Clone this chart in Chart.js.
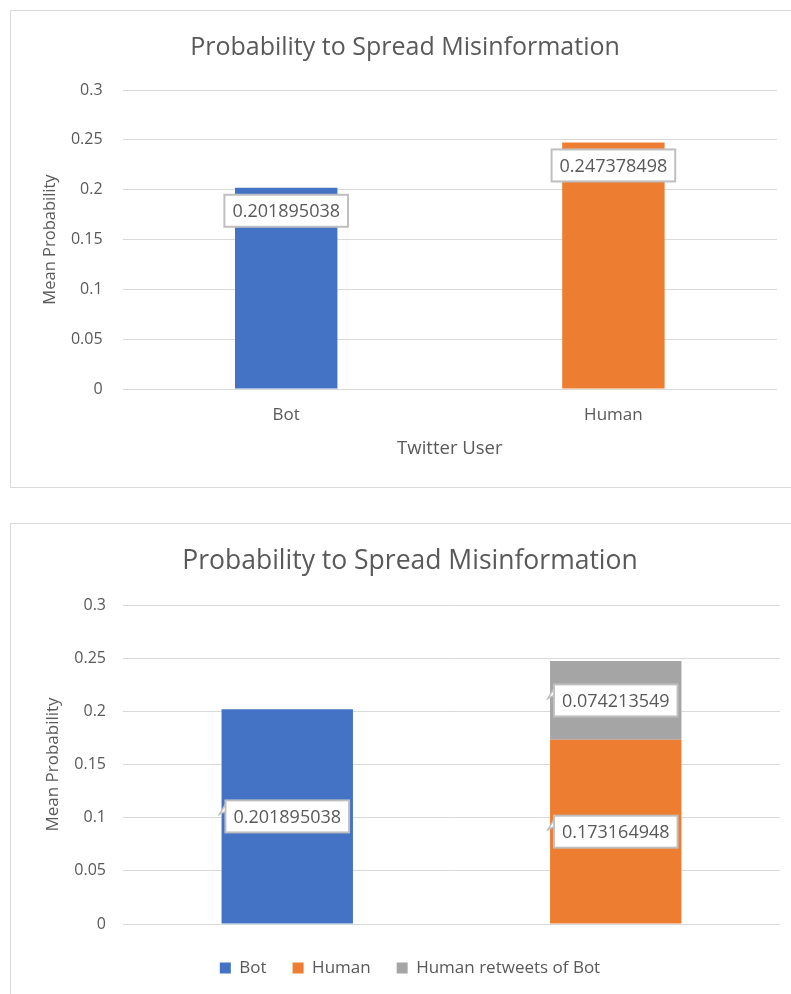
<!DOCTYPE html>
<html>
<head>
<meta charset="utf-8">
<script src="https://cdn.jsdelivr.net/npm/chart.js@4"></script>
<style>
  body { margin: 0; width: 791px; height: 994px; overflow: hidden; background: #fff; }
  .frame { position: absolute; left: 10px; width: 800px; border: 1px solid #D9D9D9; box-sizing: border-box; }
  canvas { display: block; }
</style>
</head>
<body>
<div class="frame" style="top:10px;height:478px;"><canvas id="chart1" width="780" height="476"></canvas></div>
<div class="frame" style="top:523px;height:500px;"><canvas id="chart2" width="780" height="470"></canvas></div>
<script>
var chartTitle = 'Probability to Spread Misinformation';
var users = ['Bot', 'Human'];
var meanProb = [0.201895038, 0.247378498];
var botPart = [0.201895038, null];
var humanPart = [null, 0.173164948];
var retweetPart = [null, 0.074213549];
var yTicks = ['0', '0.05', '0.1', '0.15', '0.2', '0.25', '0.3'];

var grey = '#595959';

// boxes with the values, like the excel data labels
var valueLabels = {
  id: 'valueLabels',
  afterDatasetsDraw: function (chart, args, opts) {
    var ctx = chart.ctx;
    ctx.save();
    ctx.font = opts.font;
    chart.data.datasets.forEach(function (ds, di) {
      chart.getDatasetMeta(di).data.forEach(function (bar, i) {
        var v = ds.data[i];
        if (v == null) return;
        var text = String(v);
        var w = ctx.measureText(text).width + 16, h = 32;
        var cy = opts.inside ? bar.y + 23 : (bar.y + bar.base) / 2;
        var x = bar.x - w / 2, y = cy - h / 2;
        ctx.fillStyle = '#fff';
        ctx.fillRect(x, y, w, h);
        ctx.strokeStyle = '#BFBFBF';
        ctx.lineWidth = 2;
        ctx.strokeRect(x, y, w, h);
        if (opts.callout) {
          ctx.beginPath();
          ctx.moveTo(x, y + 4);
          ctx.lineTo(x - 6, y + 14);
          ctx.lineTo(x, y + 11);
          ctx.closePath();
          ctx.fillStyle = '#fff';
          ctx.fill();
          ctx.lineWidth = 1.5;
          ctx.stroke();
        }
        ctx.fillStyle = grey;
        ctx.textAlign = 'center';
        ctx.textBaseline = 'middle';
        ctx.fillText(text, bar.x, cy + 1);
      });
    });
    ctx.restore();
  }
};

function yTickLabel(value, index) { return yTicks[index]; }

new Chart(document.getElementById('chart1'), {
  type: 'bar',
  data: {
    labels: users,
    datasets: [{
      label: 'Mean Probability',
      data: meanProb,
      backgroundColor: ['#4472C4', '#ED7D31'],
      barPercentage: 0.313,
      categoryPercentage: 1
    }]
  },
  plugins: [valueLabels],
  options: {
    responsive: false,
    animation: false,
    layout: { padding: { left: 22, right: 14, top: 0, bottom: 0 } },
    plugins: {
      legend: { display: false },
      tooltip: { enabled: false },
      title: {
        display: true,
        text: chartTitle,
        color: grey,
        font: { family: 'Open Sans', size: 25, weight: 'normal' },
        padding: { top: 22, bottom: 27 }
      },
      valueLabels: { font: '18px "Open Sans"', inside: true }
    },
    scales: {
      x: {
        grid: { display: false, drawTicks: false },
        border: { display: false },
        ticks: { color: grey, font: { family: 'Open Sans', size: 17 }, padding: 16 },
        title: {
          display: true, text: 'Twitter User', color: grey,
          font: { family: 'Open Sans', size: 18.5 }, padding: { top: 0, bottom: 27.5 }
        },
        afterFit: function (s) { s.height = 98; }
      },
      y: {
        min: 0, max: 0.3,
        grid: { color: '#D9D9D9', lineWidth: 1, drawTicks: false },
        border: { display: false },
        ticks: { stepSize: 0.05, color: grey, font: { family: 'Open Sans', size: 16 }, padding: 20, callback: yTickLabel },
        title: {
          display: true, text: 'Mean Probability', color: grey,
          font: { family: 'Open Sans', size: 16.5 }, padding: { top: 7, bottom: 0 }
        },
        afterFit: function (s) { s.width = 89.6; }
      }
    }
  }
});

new Chart(document.getElementById('chart2'), {
  type: 'bar',
  data: {
    labels: users,
    datasets: [
      { label: 'Bot', data: botPart, backgroundColor: '#4472C4' },
      { label: 'Human', data: humanPart, backgroundColor: '#ED7D31' },
      { label: 'Human retweets of Bot', data: retweetPart, backgroundColor: '#A5A5A5' }
    ]
  },
  plugins: [valueLabels],
  options: {
    responsive: false,
    animation: false,
    datasets: { bar: { barPercentage: 0.4, categoryPercentage: 1 } },
    layout: { padding: { left: 29, right: 11, top: 0, bottom: 7.5 } },
    plugins: {
      legend: {
        position: 'bottom',
        labels: { color: grey, font: { family: 'Open Sans', size: 17 }, boxWidth: 11, boxHeight: 11, padding: 26 }
      },
      tooltip: { enabled: false },
      title: {
        display: true,
        text: chartTitle,
        color: grey,
        font: { family: 'Open Sans', size: 26.5, weight: 'normal' },
        padding: { top: 22, bottom: 27.2 }
      },
      valueLabels: { font: '18px "Open Sans"', inside: false, callout: true }
    },
    scales: {
      x: {
        stacked: true,
        grid: { display: false, drawTicks: false },
        border: { display: false },
        ticks: { display: false },
        afterFit: function (s) { s.height = 9.5; }
      },
      y: {
        stacked: true,
        min: 0, max: 0.3,
        grid: { color: '#D9D9D9', lineWidth: 1, drawTicks: false },
        border: { display: false },
        ticks: { stepSize: 0.05, color: grey, font: { family: 'Open Sans', size: 16 }, padding: 17, callback: yTickLabel },
        title: {
          display: true, text: 'Mean Probability', color: grey,
          font: { family: 'Open Sans', size: 17 }, padding: { top: 2.8, bottom: 0 }
        },
        afterFit: function (s) { s.width = 83; }
      }
    }
  }
});
</script>
</body>
</html>
